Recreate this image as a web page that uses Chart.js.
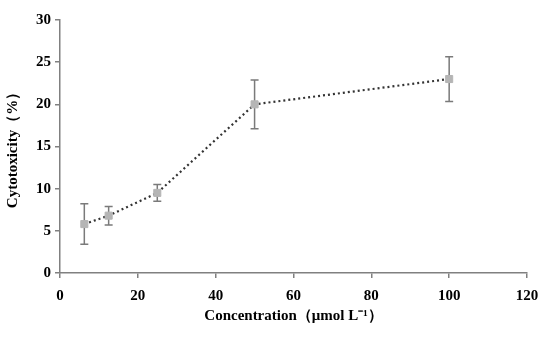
<!DOCTYPE html>
<html>
<head>
<meta charset="utf-8">
<script src="https://cdn.jsdelivr.net/npm/chart.js@4"></script>
<style>
  body { margin: 0; background: #fff; }
  #wrap { width: 550px; height: 340px; }
</style>
</head>
<body>
<div id="wrap"><canvas id="myChart" width="550" height="340"></canvas></div>
<script>
// data
const concentration = [6.25, 12.5, 25, 50, 100]
const cytotoxicity = [5.8, 6.8, 9.5, 20.0, 23.0]
const errors = [2.4, 1.1, 1.0, 2.9, 2.65]
const xTicks = [0, 20, 40, 60, 80, 100, 120]
const yTicks = [0, 5, 10, 15, 20, 25, 30]

const axisGray = '#808080'
const tickFont = { family: 'Liberation Serif', size: 15, weight: 'bold' }
const titleFont = { family: 'Liberation Serif', size: 15, weight: 'bold' }

// draws the vertical error bars with caps, using the chart's scales
const errorBars = {
    id: 'errorBars',
    beforeDatasetsDraw(chart){
        const ctx = chart.ctx
        const xs = chart.scales.x
        const ys = chart.scales.y
        ctx.save()
        ctx.strokeStyle = '#7a7a7a'
        ctx.lineWidth = 1.5
        concentration.forEach((c, i) => {
            const px = xs.getPixelForValue(c)
            const top = ys.getPixelForValue(cytotoxicity[i] + errors[i])
            const bot = ys.getPixelForValue(cytotoxicity[i] - errors[i])
            ctx.beginPath()
            ctx.moveTo(px, top); ctx.lineTo(px, bot)
            ctx.moveTo(px - 4, top); ctx.lineTo(px + 4, top)
            ctx.moveTo(px - 4, bot); ctx.lineTo(px + 4, bot)
            ctx.stroke()
        })
        ctx.restore()
    }
}

const ctx = document.getElementById('myChart')
new Chart(ctx, {
    type: 'scatter',
    data: {
        datasets: [{
            data: concentration.map((c, i) => ({ x: c, y: cytotoxicity[i] })),
            showLine: true,
            borderColor: '#333333',
            borderWidth: 2.2,
            borderDash: [2, 3],
            pointStyle: 'rect',
            pointRadius: 5,
            pointBackgroundColor: '#b5b5b5',
            pointBorderColor: '#b5b5b5',
            pointBorderWidth: 1
        }]
    },
    options: {
        responsive: false,
        animation: false,
        layout: { padding: { top: 20, right: 23, left: 0, bottom: 11 } },
        plugins: { legend: { display: false }, tooltip: { enabled: false } },
        scales: {
            x: {
                type: 'linear',
                min: 0, max: 120,
                afterBuildTicks: (s) => { s.ticks = xTicks.map(v => ({ value: v })) },
                afterFit: (s) => { s.height = 56 },
                border: { color: axisGray, width: 1.5 },
                grid: { drawOnChartArea: false, color: axisGray, lineWidth: 1.5, tickLength: 5 },
                ticks: { color: '#000', font: tickFont, padding: 9 },
                title: { display: true, text: 'Concentration（μmol L⁻¹）', color: '#000', font: titleFont, padding: { top: 4 } }
            },
            y: {
                min: 0, max: 30,
                afterBuildTicks: (s) => { s.ticks = yTicks.map(v => ({ value: v })) },
                afterFit: (s) => { s.width = 60 },
                border: { color: axisGray, width: 1.5 },
                grid: { drawOnChartArea: false, color: axisGray, lineWidth: 1.5, tickLength: 5 },
                ticks: { color: '#000', font: tickFont, padding: 4 },
                title: { display: true, text: 'Cytotoxicity（%）', color: '#000', font: titleFont, padding: { bottom: 2 } }
            }
        }
    },
    plugins: [errorBars]
})
</script>
</body>
</html>
